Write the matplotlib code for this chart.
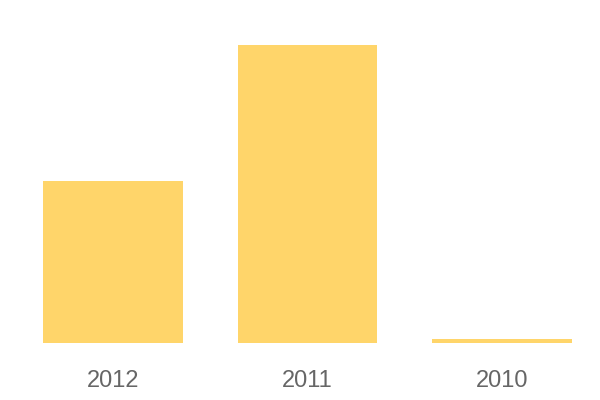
import matplotlib.pyplot as plt

years = ["2012", "2011", "2010"]
values = [54.4, 100, 1.5]

fig = plt.figure(figsize=(6, 4), dpi=100)
ax = fig.add_axes([43 / 600, 1 - 343 / 400, (572 - 43) / 600, (343 - 45) / 400])

pos = range(len(years))
ax.bar(pos, values, width=0.718, color="#FFD56A")
ax.set_xlim(-0.359, 2.359)
ax.set_ylim(0, 100)

ax.set_xticks(list(pos))
ax.set_xticklabels(years, fontfamily="Liberation Sans", fontsize=17, color="#666666")
ax.tick_params(axis="x", length=0, pad=19.5)
ax.set_yticks([])
for s in ax.spines.values():
    s.set_visible(False)

fig.savefig("out.png", dpi=100)
